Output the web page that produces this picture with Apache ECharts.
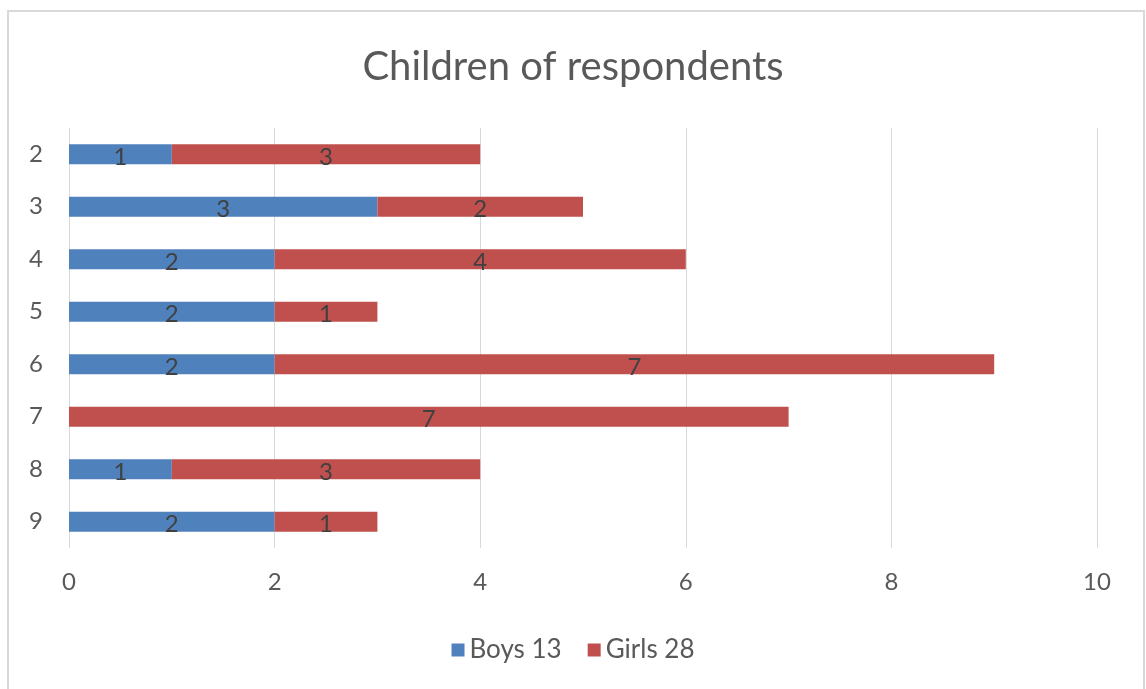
<!DOCTYPE html>
<html>
<head>
<meta charset="utf-8">
<script src="https://cdn.jsdelivr.net/npm/echarts@6/dist/echarts.min.js"></script>
<style>
  html, body { margin: 0; padding: 0; background: #ffffff; }
  #chart { width: 1146px; height: 689px; }
</style>
</head>
<body>
<div id="chart"></div>
<script>
// Number of children per respondent household, split by boys and girls
const categories = ['2', '3', '4', '5', '6', '7', '8', '9'];
const boys = [1, 3, 2, 2, 2, 0, 1, 2];
const girls = [3, 2, 4, 1, 7, 7, 3, 1];
const xTicks = [0, 2, 4, 6, 8, 10];

const sum = arr => arr.reduce((a, b) => a + b, 0);
const boysName = 'Boys ' + sum(boys);
const girlsName = 'Girls ' + sum(girls);

const FONT = 'Lato, "Open Sans", sans-serif';

const barLabel = {
  show: true,
  position: 'inside',
  color: '#404040',
  fontSize: 24,
  fontFamily: FONT,
  offset: [0, 3],
  formatter: p => (p.value ? String(p.value) : '')
};

const chart = echarts.init(document.getElementById('chart'), null, { renderer: 'canvas' });

chart.setOption({
  animation: false,
  backgroundColor: '#ffffff',
  title: {
    text: 'Children of respondents',
    left: 'center',
    top: 42,
    textStyle: { color: '#595959', fontSize: 40, fontWeight: 'normal', fontFamily: FONT }
  },
  legend: {
    bottom: 21,
    left: 'center',
    itemWidth: 13,
    itemHeight: 13,
    itemGap: 26,
    icon: 'rect',
    textStyle: { color: '#595959', fontSize: 26, fontFamily: FONT },
    data: [boysName, girlsName]
  },
  graphic: [{
    type: 'rect',
    shape: { x: 8, y: 11, width: 1136, height: 700 },
    style: { fill: 'none', stroke: '#d9d9d9', lineWidth: 2 },
    silent: true
  }],
  grid: { left: 69, right: 49, top: 128, bottom: 141, containLabel: false },
  xAxis: {
    type: 'value',
    min: xTicks[0],
    max: xTicks[xTicks.length - 1],
    interval: xTicks[1] - xTicks[0],
    axisLine: { show: false },
    axisTick: { show: false },
    axisLabel: { color: '#595959', fontSize: 24, fontFamily: FONT, margin: 22 },
    splitLine: { show: true, lineStyle: { color: '#d9d9d9', width: 1 } }
  },
  yAxis: {
    type: 'category',
    data: categories,
    inverse: true,
    axisLine: { show: false },
    axisTick: { show: false },
    axisLabel: { color: '#595959', fontSize: 24, fontFamily: FONT, margin: 26 }
  },
  series: [
    {
      name: boysName,
      type: 'bar',
      stack: 'children',
      barWidth: 20,
      data: boys,
      itemStyle: { color: '#4f81bd' },
      label: barLabel
    },
    {
      name: girlsName,
      type: 'bar',
      stack: 'children',
      barWidth: 20,
      data: girls,
      itemStyle: { color: '#c0504d' },
      label: barLabel
    }
  ]
});
</script>
</body>
</html>
